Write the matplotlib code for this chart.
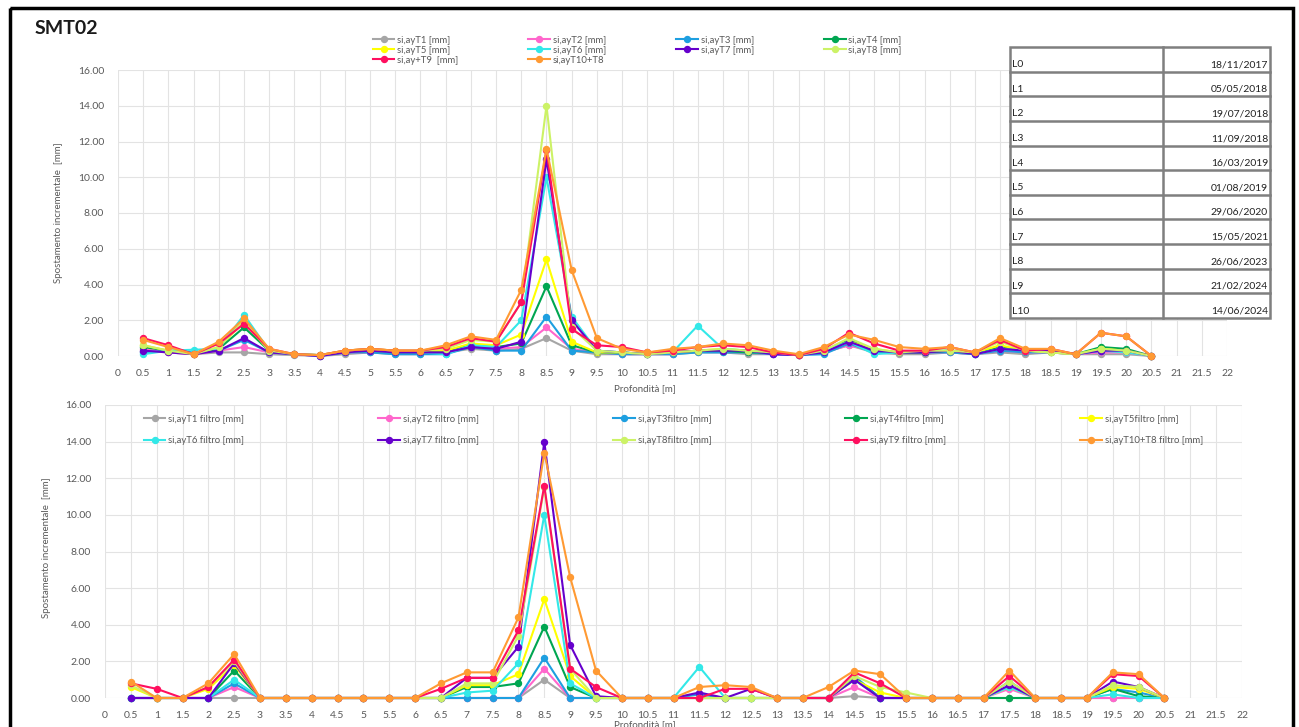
import matplotlib
matplotlib.use("Agg")
import matplotlib.pyplot as plt
from matplotlib.patches import Rectangle

plt.rcParams['font.family'] = ['Lato', 'DejaVu Sans']

W, H = 1299, 727

depths = [0.5, 1, 1.5, 2, 2.5, 3, 3.5, 4, 4.5, 5, 5.5, 6, 6.5, 7, 7.5, 8, 8.5, 9, 9.5, 10,
          10.5, 11, 11.5, 12, 12.5, 13, 13.5, 14, 14.5, 15, 15.5, 16, 16.5, 17, 17.5, 18,
          18.5, 19, 19.5, 20, 20.5]

x_ticks = [0, 0.5, 1, 1.5, 2, 2.5, 3, 3.5, 4, 4.5, 5, 5.5, 6, 6.5, 7, 7.5, 8, 8.5, 9, 9.5,
           10, 10.5, 11, 11.5, 12, 12.5, 13, 13.5, 14, 14.5, 15, 15.5, 16, 16.5, 17, 17.5,
           18, 18.5, 19, 19.5, 20, 20.5, 21, 21.5, 22]
x_tick_labels = ['0', '0.5', '1', '1.5', '2', '2.5', '3', '3.5', '4', '4.5', '5', '5.5', '6',
                 '6.5', '7', '7.5', '8', '8.5', '9', '9.5', '10', '10.5', '11', '11.5', '12',
                 '12.5', '13', '13.5', '14', '14.5', '15', '15.5', '16', '16.5', '17', '17.5',
                 '18', '18.5', '19', '19.5', '20', '20.5', '21', '21.5', '22']
y_ticks = [0, 2, 4, 6, 8, 10, 12, 14, 16]

# ---- top chart (raw) ----
top_labels = ['si,ayT1 [mm]', 'si,ayT2 [mm]', 'si,ayT3 [mm]', 'si,ayT4 [mm]',
              'si,ayT5 [mm]', 'si,ayT6 [mm]', 'si,ayT7 [mm]', 'si,ayT8 [mm]',
              'si,ay+T9  [mm]', 'si,ayT10+T8']
top_T1 = [0.3,0.2,0.1,0.2,0.2,0.1,0.05,0.0,0.1,0.2,0.1,0.1,0.2,0.4,0.3,0.4,1.0,0.3,0.1,0.1,0.1,0.1,0.2,0.2,0.1,0.1,0.05,0.2,0.6,0.2,0.1,0.1,0.2,0.1,0.2,0.1,0.2,0.1,0.1,0.1,0.0]
top_T2 = [0.4,0.2,0.1,0.3,0.5,0.2,0.1,0.0,0.2,0.2,0.2,0.2,0.2,0.5,0.4,0.5,1.6,0.4,0.2,0.1,0.1,0.1,0.3,0.3,0.2,0.1,0.05,0.2,0.6,0.3,0.2,0.2,0.2,0.1,0.3,0.2,0.2,0.1,0.2,0.2,0.0]
top_T3 = [0.2,0.3,0.2,0.3,0.9,0.2,0.1,0.0,0.2,0.2,0.1,0.1,0.1,0.5,0.3,0.3,2.2,0.3,0.2,0.1,0.1,0.1,0.2,0.2,0.2,0.1,0.05,0.1,0.7,0.2,0.2,0.2,0.2,0.1,0.3,0.2,0.2,0.1,0.3,0.3,0.0]
top_T4 = [0.5,0.3,0.1,0.4,1.6,0.3,0.1,0.05,0.2,0.3,0.2,0.2,0.3,0.6,0.5,0.7,3.9,0.6,0.2,0.2,0.1,0.2,0.3,0.3,0.2,0.2,0.05,0.3,0.9,0.3,0.2,0.2,0.3,0.1,0.5,0.3,0.3,0.1,0.5,0.4,0.0]
top_T5 = [0.6,0.3,0.1,0.5,1.9,0.3,0.1,0.05,0.3,0.4,0.3,0.3,0.3,0.7,0.6,1.2,5.4,0.8,0.2,0.2,0.1,0.2,0.3,0.4,0.3,0.2,0.05,0.3,0.8,0.4,0.2,0.3,0.3,0.2,0.6,0.3,0.2,0.1,0.4,0.3,0.0]
top_T6 = [0.1,0.3,0.35,0.4,2.3,0.3,0.1,0.05,0.2,0.3,0.2,0.2,0.1,0.6,0.5,2.0,10.0,2.2,0.3,0.2,0.1,0.2,1.7,0.4,0.3,0.2,0.05,0.3,0.8,0.1,0.2,0.3,0.3,0.1,0.4,0.3,0.3,0.1,0.3,0.2,0.0]
top_T7 = [0.3,0.2,0.1,0.3,1.0,0.2,0.1,0.0,0.2,0.3,0.2,0.2,0.2,0.5,0.4,0.8,11.0,2.0,0.3,0.2,0.1,0.2,0.3,0.3,0.3,0.1,0.05,0.2,0.8,0.3,0.2,0.2,0.3,0.1,0.4,0.3,0.3,0.1,0.3,0.3,0.0]
top_T8 = [0.6,0.3,0.1,0.5,2.0,0.3,0.1,0.05,0.3,0.4,0.3,0.3,0.4,0.9,0.8,3.0,14.0,1.6,0.3,0.2,0.1,0.2,0.3,0.4,0.3,0.2,0.05,0.3,1.0,0.4,0.2,0.3,0.3,0.2,0.8,0.3,0.2,0.1,0.4,0.3,0.0]
top_T9 = [1.0,0.6,0.1,0.7,1.8,0.4,0.1,0.05,0.3,0.4,0.3,0.3,0.5,1.0,0.8,3.0,11.5,1.5,0.6,0.5,0.2,0.3,0.5,0.6,0.5,0.2,0.05,0.4,1.3,0.7,0.3,0.3,0.5,0.2,0.9,0.3,0.4,0.1,1.3,1.1,0.0]
top_T10 = [0.9,0.5,0.1,0.8,2.1,0.4,0.1,0.05,0.3,0.4,0.3,0.3,0.6,1.1,0.9,3.7,11.6,4.8,1.0,0.4,0.2,0.4,0.5,0.7,0.6,0.3,0.1,0.5,1.2,0.9,0.5,0.4,0.5,0.2,1.0,0.4,0.4,0.1,1.3,1.1,0.0]

# ---- bottom chart (filtered) ----
bot_labels = ['si,ayT1 filtro [mm]', 'si,ayT2 filtro [mm]', 'si,ayT3filtro [mm]',
              'si,ayT4filtro [mm]', 'si,ayT5filtro [mm]', 'si,ayT6 filtro [mm]',
              'si,ayT7 filtro [mm]', 'si,ayT8filtro [mm]', 'si,ayT9 filtro [mm]',
              'si,ayT10+T8 filtro [mm]']
bot_T1 = [0,0,0,0,0,0,0,0,0,0,0,0,0,0,0,0,1.0,0,0,0,0,0,0,0,0,0,0,0,0.1,0,0,0,0,0,0,0,0,0,0,0,0]
bot_T2 = [0,0,0,0,0.6,0,0,0,0,0,0,0,0,0,0,0,1.6,0,0,0,0,0,0,0,0,0,0,0,0.6,0,0,0,0,0,0.5,0,0,0,0,0,0]
bot_T3 = [0,0,0,0,0.8,0,0,0,0,0,0,0,0,0,0,0,2.2,0,0,0,0,0,0.2,0,0,0,0,0,1.2,0,0,0,0,0,0.9,0,0,0,0.5,0.3,0]
bot_T4 = [0,0,0,0,1.5,0,0,0,0,0,0,0,0,0.6,0.6,0.8,3.9,0.6,0,0,0,0,0,0,0,0,0,0,1.1,0,0,0,0,0,0,0,0,0,0.5,0.1,0]
bot_T5 = [0.6,0,0,0.5,1.8,0,0,0,0,0,0,0,0,0.7,0.7,1.3,5.4,1.2,0,0,0,0,0,0,0,0,0,0,1.0,0.3,0,0,0,0,0.6,0,0,0,0.6,0.5,0]
bot_T6 = [0,0,0,0,1.0,0,0,0,0,0,0,0,0,0.3,0.4,1.9,10.0,0.8,0,0,0,0,1.7,0,0,0,0,0,1.0,0,0,0,0,0,0.6,0,0,0,0.2,0,0]
bot_T7 = [0,0,0,0,1.9,0,0,0,0,0,0,0,0,1.1,1.1,2.8,14.0,2.9,0.1,0,0,0,0.3,0,0.5,0,0,0,1.0,0,0,0,0,0,0.7,0,0,0,0.9,0.6,0]
bot_T8 = [0.7,0,0,0.6,2.0,0,0,0,0,0,0,0,0,0.8,0.8,3.4,11.5,1.6,0,0,0,0,0,0,0,0,0,0,1.2,0.6,0.3,0,0,0,0.9,0,0,0,0.7,0.6,0]
bot_T9 = [0.8,0.5,0,0.6,2.1,0,0,0,0,0,0,0,0.5,1.1,1.1,3.7,11.6,1.6,0.6,0,0,0,0,0.5,0.5,0,0,0,1.4,0.8,0,0,0,0,1.2,0,0,0,1.3,1.2,0]
bot_T10 = [0.9,0,0,0.8,2.4,0,0,0,0,0,0,0,0.8,1.4,1.4,4.4,13.4,6.6,1.5,0,0,0,0.6,0.7,0.6,0,0,0.6,1.5,1.3,0,0,0,0,1.5,0,0,0,1.4,1.3,0]

colors = ['#a6a6a6', '#ff66cc', '#1e9fe0', '#00a651', '#ffff00',
          '#33e8e8', '#6600cc', '#ccf266', '#ff0f5f', '#ff9a33']

table_ids = ['L0', 'L1', 'L2', 'L3', 'L4', 'L5', 'L6', 'L7', 'L8', 'L9', 'L10']
table_dates = ['18/11/2017', '05/05/2018', '19/07/2018', '11/09/2018', '16/03/2019',
               '01/08/2019', '29/06/2020', '15/05/2021', '26/06/2023', '21/02/2024',
               '14/06/2024']

top_series = [top_T1, top_T2, top_T3, top_T4, top_T5, top_T6, top_T7, top_T8, top_T9, top_T10]
bot_series = [bot_T1, bot_T2, bot_T3, bot_T4, bot_T5, bot_T6, bot_T7, bot_T8, bot_T9, bot_T10]

fig = plt.figure(figsize=(W / 100, H / 100), dpi=100)
fig.patch.set_facecolor('white')


def fx(px):
    return px / W


def fy(py):
    return 1 - py / H


def style_axes(ax):
    ax.set_xlim(0, 22)
    ax.set_ylim(0, 16)
    ax.set_xticks(x_ticks)
    ax.set_xticklabels(x_tick_labels)
    ax.set_yticks(y_ticks)
    ax.set_yticklabels([f'{v:.2f}' for v in y_ticks])
    ax.grid(True, color='#e3e3e3', linewidth=0.8)
    ax.set_axisbelow(True)
    for s in ax.spines.values():
        s.set_visible(False)
    ax.tick_params(length=0, labelsize=7.5, colors='#595959', pad=9)
    ax.tick_params(axis='y', pad=10)


def plot_series(ax, series, labels):
    handles = []
    for vals, col, lab in zip(series, colors, labels):
        h, = ax.plot(depths, vals, color=col, lw=1.5, marker='o', markersize=4.3,
                     label=lab, clip_on=False)
        handles.append(h)
    return handles


def row_major(items, ncol):
    nrow = -(-len(items) // ncol)
    out = []
    for c in range(ncol):
        for r in range(nrow):
            i = r * ncol + c
            if i < len(items):
                out.append(items[i])
    return out


# top axes: x 0 -> 118 px, 22 -> 1227 px ; y 0 -> 356 px, 16 -> 70 px
ax1 = fig.add_axes([fx(118), fy(356), fx(1227 - 118), (356 - 70) / H])
style_axes(ax1)
h1 = plot_series(ax1, top_series, top_labels)

# bottom axes: x 0 -> 105 px, 22 -> 1242 px ; y 0 -> 698 px, 16 -> 405 px
ax2 = fig.add_axes([fx(105), fy(698), fx(1242 - 105), (698 - 405) / H])
style_axes(ax2)
h2 = plot_series(ax2, bot_series, bot_labels)

# axis titles
for xc, yc in ((59, 213), (47, 548)):
    fig.text(fx(xc), fy(yc), 'Spostamento incrementale  [mm]', rotation=90,
             ha='center', va='center', fontsize=7, color='#595959')
fig.text(fx(645), fy(389), 'Profondità [m]', ha='center', va='center',
         fontsize=7, color='#595959')
fig.text(fx(645), fy(725), 'Profondità [m]', ha='center', va='center',
         fontsize=7, color='#595959')

# legends (row-major ordering like the original)
fig.legend(handles=row_major(h1, 4), labels=row_major(top_labels, 4), ncol=4,
           loc='upper left', bbox_to_anchor=(fx(368), fy(31)), frameon=False,
           fontsize=6.8, handlelength=2.3, handletextpad=0.3, columnspacing=7.4,
           labelspacing=0.1, borderpad=0, labelcolor='#595959')
fig.legend(handles=row_major(h2, 5), labels=row_major(bot_labels, 5), ncol=5,
           loc='upper left', bbox_to_anchor=(fx(139), fy(410)), frameon=False,
           fontsize=6.8, handlelength=2.3, handletextpad=0.3, columnspacing=14.2,
           labelspacing=1.3, borderpad=0, labelcolor='#595959')

# overlay axes in pixel coords for title, table and frame
ov = fig.add_axes([0, 0, 1, 1], zorder=10)
ov.set_xlim(0, W)
ov.set_ylim(H, 0)
ov.axis('off')
ov.patch.set_alpha(0)

ov.text(35, 29, 'SMT02', fontsize=14, fontweight='bold', ha='left', va='center',
        color='#1a1a1a')

tx0, tx1, tx2 = 1010, 1163, 1270
ty0, ty1 = 47, 318
n = len(table_ids)
rh = (ty1 - ty0) / n
ov.add_patch(Rectangle((tx0, ty0), tx2 - tx0, ty1 - ty0, facecolor='white',
                       edgecolor='#7f7f7f', lw=1.8))
for i in range(1, n):
    yy = ty0 + i * rh
    ov.plot([tx0, tx2], [yy, yy], color='#7f7f7f', lw=1.8)
ov.plot([tx1, tx1], [ty0, ty1], color='#7f7f7f', lw=1.8)
for i, (lid, dt) in enumerate(zip(table_ids, table_dates)):
    yb = ty0 + (i + 1) * rh - 2.5
    ov.text(tx0 + 2, yb, lid, fontsize=7.5, ha='left', va='bottom', color='#222222')
    ov.text(tx2 - 2, yb, dt, fontsize=7.5, ha='right', va='bottom', color='#222222')

# outer black frame
ov.add_patch(Rectangle((10, 8), 1283, 740, facecolor='none', edgecolor='black',
                       lw=2.5, clip_on=False))

fig.savefig('out.png', dpi=100, facecolor='white')
